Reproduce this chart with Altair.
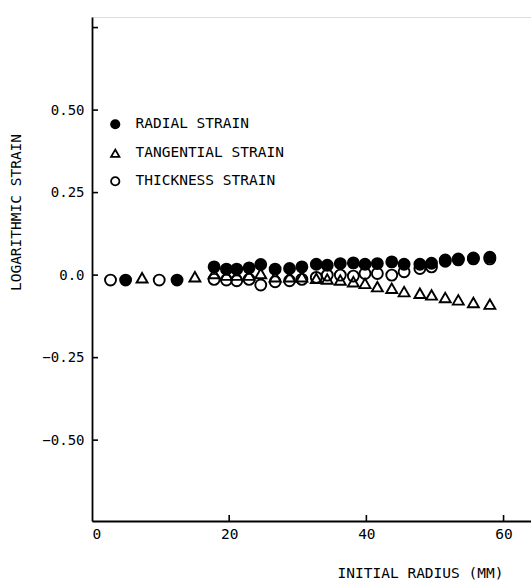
import altair as alt
import pandas as pd

# Radii (mm) and strains
radial_x = [4.9, 12.4, 17.8, 19.6, 21.1, 22.9, 24.6, 26.7, 28.8, 30.6, 32.7, 34.3, 36.2, 38.1,
            39.8, 41.6, 43.7, 45.5, 47.8, 49.5, 51.5, 53.4, 55.6, 58.0]
radial_y = [-0.015, -0.015, 0.025, 0.018, 0.018, 0.022, 0.032, 0.018, 0.020, 0.025, 0.033, 0.030,
            0.035, 0.037, 0.033, 0.035, 0.040, 0.033, 0.033, 0.036, 0.042, 0.046, 0.049, 0.054]

tangential_x = [7.3, 15.0, 17.8, 19.6, 21.1, 22.9, 24.6, 26.7, 28.8, 30.6, 32.7, 34.3, 36.2, 38.1,
                39.8, 41.6, 43.7, 45.5, 47.8, 49.5, 51.5, 53.4, 55.6, 58.0]
tangential_y = [-0.008, -0.005, 0.005, 0.0, 0.0, 0.0, 0.005, -0.005, -0.005, -0.005, -0.010, -0.012,
                -0.015, -0.020, -0.025, -0.035, -0.040, -0.050, -0.055, -0.060, -0.068, -0.075,
                -0.083, -0.088]

thickness_x = [2.7, 9.8, 17.8, 19.6, 21.1, 22.9, 24.6, 26.7, 28.8, 30.6, 32.7, 34.3, 36.2, 38.1,
               39.8, 41.6, 43.7, 45.5, 47.8, 49.5, 51.5, 53.4, 55.6, 58.0]
thickness_y = [-0.015, -0.015, -0.013, -0.015, -0.017, -0.013, -0.030, -0.020, -0.017, -0.013,
               -0.007, 0.0, 0.0, -0.003, 0.005, 0.005, 0.0, 0.010, 0.020, 0.025, 0.046, 0.049,
               0.052, 0.049]

series_names = ["RADIAL STRAIN", "TANGENTIAL STRAIN", "THICKNESS STRAIN"]
y_ticks = [0.75, 0.5, 0.25, 0.0, -0.25, -0.5]
y_labels = [0.5, 0.25, 0.0, -0.25, -0.5]
x_ticks = [20, 40, 60]
x_labels = [0, 20, 40, 60]

rows = []
for name, xs, ys in zip(series_names, [radial_x, tangential_x, thickness_x],
                        [radial_y, tangential_y, thickness_y]):
    for a, b in zip(xs, ys):
        rows.append({"series": name, "radius": a, "strain": b})
df = pd.DataFrame(rows)

FONT = "DejaVu Sans Mono, Liberation Mono, monospace"
xscale = alt.Scale(domain=[0, 64], nice=False, zero=False)
yscale = alt.Scale(domain=[-0.745, 0.782], nice=False, zero=False)

points = alt.Chart(df).mark_point(filled=True, strokeWidth=1.9,
                                  opacity=1, fillOpacity=1).encode(
    x=alt.X("radius:Q", scale=xscale,
            axis=alt.Axis(values=x_labels, tickSize=0, grid=False, domainColor="black",
                          domainWidth=1.8, labelFont=FONT, labelFontSize=14.5,
                          labelColor="black", labelPadding=6,
                          title="INITIAL RADIUS (MM)", titleFont=FONT, titleFontSize=14.5,
                          titleFontWeight="normal", titleColor="black",
                          titleX=328, titleY=45, titleAlign="center")),
    y=alt.Y("strain:Q", scale=yscale,
            axis=alt.Axis(values=y_labels, tickSize=0, grid=False, domainColor="black",
                          domainWidth=1.8, labelFont=FONT, labelFontSize=14,
                          labelColor="black", labelPadding=8,
                          labelExpr="datum.value == 0 ? '0.0' : format(datum.value, '.2f')",
                          title="LOGARITHMIC STRAIN", titleFont=FONT, titleFontSize=14.5,
                          titleFontWeight="normal", titleColor="black",
                          titleX=-69, titleY=195, titleAlign="center", titleAngle=-90)),
    shape=alt.Shape("series:N", sort=series_names,
                    scale=alt.Scale(domain=series_names,
                                    range=["circle", "triangle-up", "circle"]),
                    legend=alt.Legend(title=None, orient="none", legendX=16, legendY=100,
                                      labelFont=FONT, labelFontSize=14.5, labelColor="black",
                                      symbolStrokeWidth=1.8,
                                      symbolSize=70, rowPadding=12, labelOffset=13)),
    fill=alt.Fill("series:N", sort=series_names,
                  scale=alt.Scale(domain=series_names,
                                  range=["black", "transparent", "transparent"]),
                  legend=None),
    stroke=alt.Stroke("series:N", sort=series_names,
                      scale=alt.Scale(domain=series_names,
                                      range=["black", "black", "black"]),
                      legend=None),
    size=alt.value(120),
)

ytick_df = pd.DataFrame({"v": y_ticks})
yticks = alt.Chart(ytick_df).mark_rule(color="black", strokeWidth=1.6).encode(
    y=alt.Y("v:Q", scale=yscale),
    x=alt.value(0), x2=alt.value(6),
)
xtick_df = pd.DataFrame({"v": x_ticks})
xticks = alt.Chart(xtick_df).mark_rule(color="black", strokeWidth=1.6).encode(
    x=alt.X("v:Q", scale=xscale),
    y=alt.value(504), y2=alt.value(498),
)

chart = alt.layer(yticks, xticks, points).properties(
    width=439, height=504,
    autosize=alt.AutoSizeParams(type="none"),
    padding={"left": 92, "top": 17, "right": 0, "bottom": 62},
).configure_view(stroke=None).configure(background="white")

chart.save("out.html", embed_options={"renderer": "svg", "actions": False})
